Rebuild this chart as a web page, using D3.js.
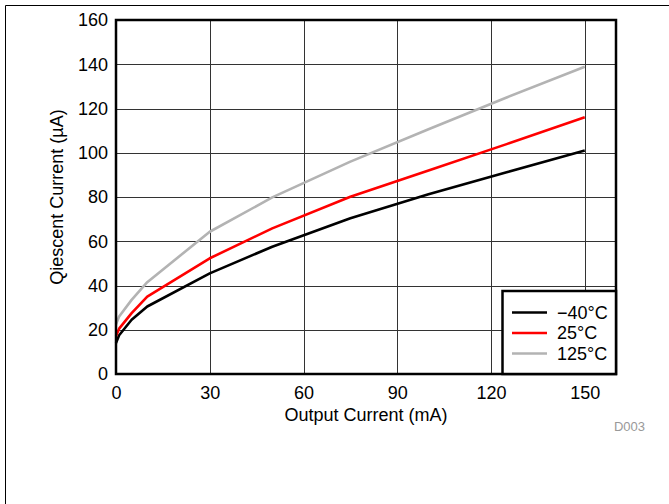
<!DOCTYPE html>
<html><head><meta charset="utf-8">
<script src="https://cdn.jsdelivr.net/npm/d3@7"></script>
<style>body{margin:0;background:#fff}svg{display:block;font-family:"Liberation Sans",Arial,sans-serif}</style>
</head><body>
<svg id="c" width="669" height="504"></svg>
<script>
const outputCurrent = [0, 1, 5, 10, 30, 50, 75, 100, 125, 150];
const qMinus40 = [14, 17.5, 24.5, 30.5, 45.5, 57.5, 70.4, 81.2, 91.2, 101];
const q25 = [17.2, 20.5, 27.5, 35, 52.3, 65.8, 80.1, 92, 103.9, 116];
const q125 = [22.5, 26, 33.5, 41.5, 64.3, 79.8, 96, 110.6, 125, 138.9];
const seriesNames = ["\u221240\u00B0C", "25\u00B0C", "125\u00B0C"];
const seriesColors = ["#000000", "#ff0000", "#b3b3b3"];
const xTicks = [0, 30, 60, 90, 120, 150];
const yTicks = [0, 20, 40, 60, 80, 100, 120, 140, 160];

const svg = d3.select("#c");
const L = 116, R = 616, T = 20, B = 374;
const x = d3.scaleLinear().domain([0, 160]).range([L, R]);
const y = d3.scaleLinear().domain([0, 160]).range([B, T]);

// outer frame (top and left)
svg.append("path").attr("d", "M5.5,504V5.5H669").attr("fill", "none").attr("stroke", "#000").attr("stroke-width", 1);

// grid
svg.append("g").selectAll("line").data(xTicks.slice(1)).join("line")
  .attr("x1", d => Math.round(x(d)) + 0.5).attr("x2", d => Math.round(x(d)) + 0.5)
  .attr("y1", T).attr("y2", B).attr("stroke", "#333").attr("stroke-width", 1);
svg.append("g").selectAll("line").data(yTicks.slice(1)).join("line")
  .attr("y1", d => Math.round(y(d)) + 0.5).attr("y2", d => Math.round(y(d)) + 0.5)
  .attr("x1", L).attr("x2", R).attr("stroke", "#333").attr("stroke-width", 1);

// axes labels via d3 axes
const xAxis = svg.append("g").attr("transform", `translate(0,${B})`)
  .call(d3.axisBottom(x).tickValues(xTicks).tickSize(0).tickPadding(12));
const yAxis = svg.append("g").attr("transform", `translate(${L},0)`)
  .call(d3.axisLeft(y).tickValues(yTicks).tickSize(0).tickPadding(8));
[xAxis, yAxis].forEach(g => {
  g.select(".domain").remove();
  g.selectAll("text").attr("font-size", 18).attr("fill", "#000").attr("font-family", "Liberation Sans, Arial, sans-serif");
});

// lines
const series = [qMinus40, q25, q125];
const line = d3.line().x((d, i) => x(outputCurrent[i])).y(d => y(d));
series.forEach((s, k) => {
  svg.append("path").datum(s).attr("d", line).attr("fill", "none")
    .attr("stroke", seriesColors[k]).attr("stroke-width", 2.6).attr("stroke-linejoin", "round");
});

// plot border
svg.append("rect").attr("x", L).attr("y", T).attr("width", R - L).attr("height", B - T)
  .attr("fill", "none").attr("stroke", "#000").attr("stroke-width", 2.5);

// legend
const lg = svg.append("g");
lg.append("rect").attr("x", 502.5).attr("y", 291).attr("width", R - 502.5).attr("height", B - 291)
  .attr("fill", "#fff").attr("stroke", "#000").attr("stroke-width", 2.5);
seriesNames.forEach((n, k) => {
  const yy = 312.5 + k * 20.5;
  lg.append("line").attr("x1", 512).attr("x2", 547).attr("y1", yy).attr("y2", yy)
    .attr("stroke", seriesColors[k]).attr("stroke-width", 2.6);
  lg.append("text").attr("x", 557).attr("y", yy).attr("dy", "0.35em").attr("font-size", 18).text(n);
});

// titles
svg.append("text").attr("x", 366).attr("y", 415).attr("dy", "0.35em").attr("text-anchor", "middle")
  .attr("font-size", 18).text("Output Current (mA)");
svg.append("text").attr("transform", "translate(57,197) rotate(-90)").attr("dy", "0.35em")
  .attr("text-anchor", "middle").attr("font-size", 18).text("Qiescent Current (\u00B5A)");
svg.append("text").attr("x", 645).attr("y", 426).attr("dy", "0.35em").attr("text-anchor", "end")
  .attr("font-size", 13).attr("fill", "#999").text("D003");
</script>
</body></html>
